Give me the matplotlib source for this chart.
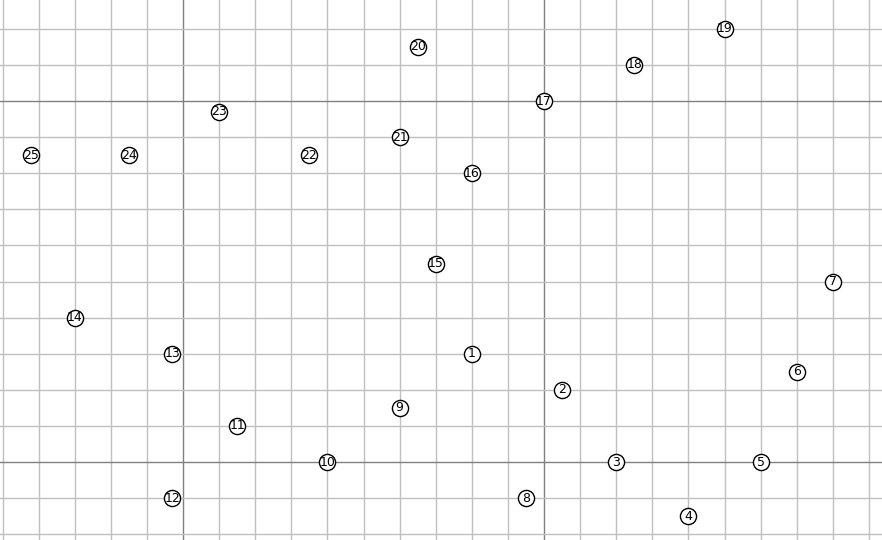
import numpy as np
import matplotlib.pyplot as plt

# point labels and their grid coordinates
labels = [str(i) for i in range(1, 26)]
x_vals = [8, 10.5, 12, 14, 16, 17, 18, 9.5, 6, 4, 1.5, -0.3, -0.3, -3, 7,
          8, 10, 12.5, 15, 6.5, 6, 3.5, 1, -1.5, -4.2]
y_vals = [3, 2, 0, -1.5, 0, 2.5, 5, -1, 1.5, 0, 1, -1, 3, 4, 5.5,
          8, 10, 11, 12, 11.5, 9, 8.5, 9.7, 8.5, 8.5]

fig = plt.figure(figsize=(8.82, 5.40), dpi=100)
ax = fig.add_axes([0, 0, 1, 1])

ax.set_xlim(-5.07, 19.36)
ax.set_ylim(-2.16, 12.8)

# minor grid every unit, darker lines at 0 and 10
for gx in range(-5, 20):
    col = '#808080' if gx in (0, 10) else '#c0c0c0'
    ax.axvline(gx, color=col, lw=1, zorder=1)
for gy in range(-2, 13):
    col = '#808080' if gy in (0, 10) else '#c0c0c0'
    ax.axhline(gy, color=col, lw=1, zorder=1)

ax.scatter(x_vals, y_vals, s=135, facecolor='white', edgecolor='black',
           linewidth=1, zorder=3)
for lab, x, y in zip(labels, x_vals, y_vals):
    ax.text(x, y, lab, ha='center', va='center', fontsize=9, zorder=4)

ax.set_axis_off()
fig.savefig('out.png', dpi=100)
